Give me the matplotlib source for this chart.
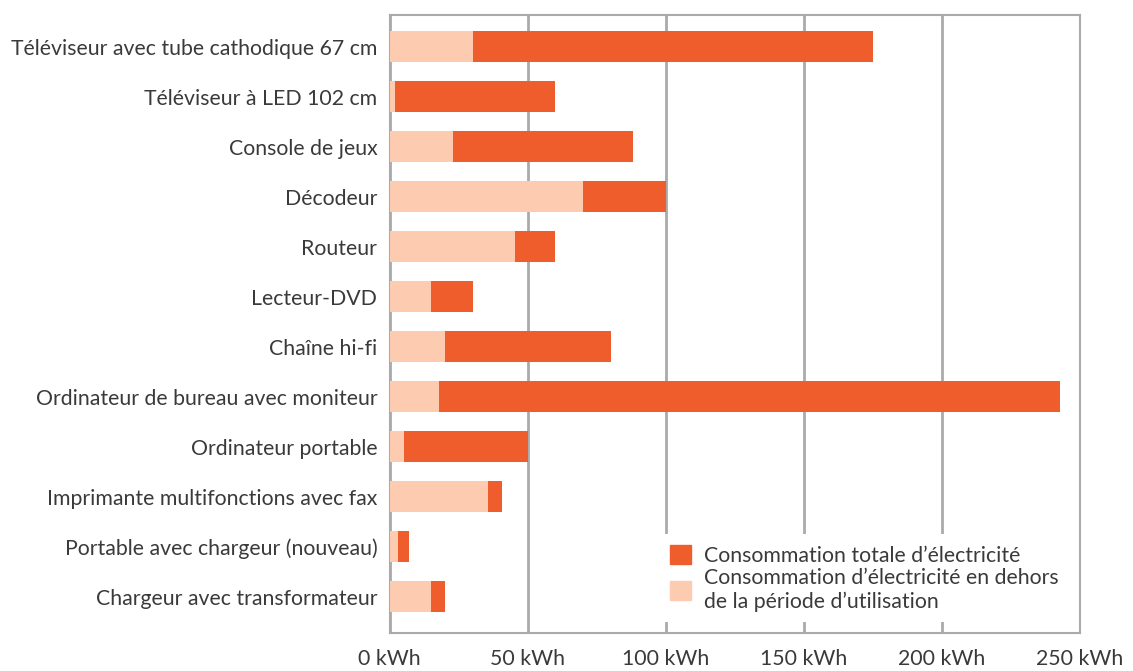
import numpy as np
import matplotlib
matplotlib.use("Agg")
import matplotlib.pyplot as plt
from matplotlib.patches import Patch

plt.rcParams['font.family'] = ['Lato', 'DejaVu Sans']

appareils = [
    "Téléviseur avec tube cathodique 67 cm",
    "Téléviseur à LED 102 cm",
    "Console de jeux",
    "Décodeur",
    "Routeur",
    "Lecteur-DVD",
    "Chaîne hi-fi",
    "Ordinateur de bureau avec moniteur",
    "Ordinateur portable",
    "Imprimante multifonctions avec fax",
    "Portable avec chargeur (nouveau)",
    "Chargeur avec transformateur",
]
# kWh par an
total = [175, 60, 88, 100, 60, 30, 80, 243, 50, 40.5, 7, 20]
hors_utilisation = [30, 2, 23, 70, 45.5, 15, 20, 18, 5, 35.5, 3, 15]

ticks = [0, 50, 100, 150, 200, 250]
tick_labels = ["0 kWh", "50 kWh", "100 kWh", "150 kWh", "200 kWh", "250 kWh"]

dark = "#F05D2C"
light = "#FDCBB0"
txt = "#3a3a3a"

fig = plt.figure(figsize=(11.33, 6.71), dpi=100)
ax = fig.add_axes([0.344, 0.057, 0.609, 0.921])

y = np.arange(len(appareils))
ax.barh(y, total, height=0.62, color=dark, zorder=3)
ax.barh(y, hors_utilisation, height=0.62, color=light, zorder=4)

ax.set_xlim(0, 250)
ax.set_ylim(len(appareils) - 0.28, -0.64)
ax.set_xticks(ticks)
ax.set_xticklabels(tick_labels)
ax.set_yticks(y)
ax.set_yticklabels(appareils)
ax.tick_params(axis='both', length=0, labelsize=15.3, colors=txt)
ax.tick_params(axis='y', pad=9)
ax.tick_params(axis='x', pad=12)

ax.grid(axis='x', color="#aaaaaa", linewidth=2, zorder=0)
for s in ax.spines.values():
    s.set_color("#aaaaaa")
    s.set_linewidth(1.5)

handles = [Patch(color=dark), Patch(color=light)]
ax.legend(handles, ["Consommation totale d’électricité",
                    "Consommation d’électricité en dehors\nde la période d’utilisation"],
          loc='lower right', bbox_to_anchor=(1.0, 0.0), frameon=True, framealpha=1,
          edgecolor='none', fontsize=15.3, labelcolor=txt, handlelength=1.0,
          handleheight=1.0, handletextpad=0.6, labelspacing=0.1, borderpad=0.5)

fig.savefig("out.png", dpi=100)
